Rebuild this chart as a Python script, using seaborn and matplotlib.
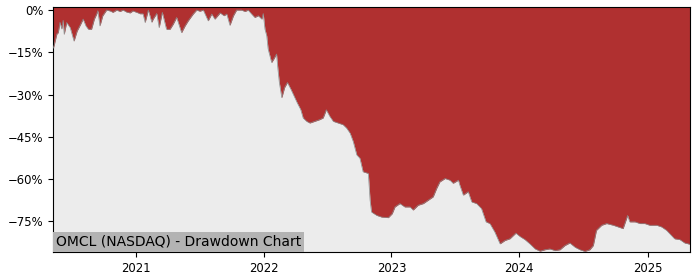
import matplotlib
matplotlib.use("Agg")
import matplotlib.pyplot as plt
import matplotlib.dates as mdates
from matplotlib.ticker import FuncFormatter
import seaborn as sns
import pandas as pd

ticker_label = "OMCL (NASDAQ) - Drawdown Chart"

dates = [
    "2020-05-11", "2020-05-14", "2020-05-21", "2020-05-25", "2020-05-30", "2020-06-04",
    "2020-06-08", "2020-06-11", "2020-06-18", "2020-06-28", "2020-07-09", "2020-07-18",
    "2020-07-28", "2020-08-04", "2020-08-12", "2020-08-19", "2020-08-28", "2020-09-05",
    "2020-09-12", "2020-09-15", "2020-09-21", "2020-09-29", "2020-10-10", "2020-10-20",
    "2020-10-28", "2020-11-08", "2020-11-17", "2020-11-26", "2020-12-06", "2020-12-16",
    "2020-12-24", "2021-01-08", "2021-01-13", "2021-01-22", "2021-01-28", "2021-02-06",
    "2021-02-16", "2021-02-20", "2021-03-02", "2021-03-09", "2021-03-18", "2021-03-30",
    "2021-04-09", "2021-04-18", "2021-04-28", "2021-05-12", "2021-05-22", "2021-05-31",
    "2021-06-14", "2021-06-24", "2021-07-03", "2021-07-13", "2021-07-27", "2021-08-06",
    "2021-08-15", "2021-08-30", "2021-09-10", "2021-09-18", "2021-09-27", "2021-10-07",
    "2021-10-16", "2021-10-30", "2021-11-09", "2021-11-18", "2021-11-28", "2021-12-07",
    "2021-12-17", "2021-12-27", "2021-12-31", "2022-01-05", "2022-01-10", "2022-01-14",
    "2022-01-24", "2022-01-30", "2022-02-07", "2022-02-11", "2022-02-15", "2022-02-22",
    "2022-03-02", "2022-03-10", "2022-03-20", "2022-03-29", "2022-04-07", "2022-04-17",
    "2022-04-24", "2022-05-04", "2022-05-13", "2022-05-27", "2022-06-10", "2022-06-20",
    "2022-06-29", "2022-07-09", "2022-07-19", "2022-08-02", "2022-08-16", "2022-08-26",
    "2022-09-05", "2022-09-14", "2022-09-24", "2022-10-03", "2022-10-12", "2022-10-27",
    "2022-11-01", "2022-11-05", "2022-11-20", "2022-12-04", "2022-12-23", "2023-01-03",
    "2023-01-11", "2023-01-25", "2023-02-08", "2023-02-23", "2023-03-04", "2023-03-18",
    "2023-04-02", "2023-04-16", "2023-04-30", "2023-05-10", "2023-05-19", "2023-06-03",
    "2023-06-17", "2023-06-26", "2023-07-11", "2023-07-15", "2023-07-25", "2023-08-08",
    "2023-08-18", "2023-09-01", "2023-09-15", "2023-09-28", "2023-10-09", "2023-10-23",
    "2023-11-07", "2023-11-21", "2023-12-05", "2023-12-22", "2024-01-03", "2024-01-17",
    "2024-01-31", "2024-02-15", "2024-02-29", "2024-03-14", "2024-03-28", "2024-04-12",
    "2024-04-26", "2024-05-10", "2024-05-24", "2024-06-08", "2024-06-22", "2024-07-06",
    "2024-07-20", "2024-07-30", "2024-08-08", "2024-08-23", "2024-09-06", "2024-09-25",
    "2024-10-09", "2024-10-23", "2024-10-28", "2024-11-05", "2024-11-11", "2024-11-26",
    "2024-12-10", "2024-12-24", "2025-01-07", "2025-01-27", "2025-02-10", "2025-02-24",
    "2025-03-10", "2025-03-19", "2025-04-03", "2025-04-17", "2025-04-27", "2025-05-02",
]

drawdown_pct = [
    -13.5, -12.1, -8.5, -8.0, -4.3, -6.7,
    -3.6, -8.6, -4.4, -6.2, -11.0, -7.4,
    -5.0, -3.2, -5.6, -6.8, -6.8, -3.2,
    -1.3, -0.2, -5.6, -2.0, 0.0, -0.3,
    -0.8, 0.0, -0.5, 0.0, -0.7, -1.0,
    -0.3, -1.0, -1.3, -1.3, -4.4, 0.0,
    -4.3, -3.2, -1.2, -6.2, -0.8, -6.8,
    -6.8, -5.0, -2.6, -8.0, -5.6, -3.8,
    -1.4, 0.0, -0.4, 0.0, -3.8, -1.4,
    -3.2, -1.0, -2.0, -1.4, -5.4, -2.0,
    0.0, 0.0, -0.5, 0.0, -1.4, -2.6,
    -2.0, -3.2, -1.2, -6.8, -9.1, -13.8,
    -18.6, -17.4, -15.6, -21.0, -25.7, -31.1,
    -27.5, -25.7, -28.1, -30.5, -32.9, -35.3,
    -38.3, -39.5, -40.1, -39.5, -38.9, -38.3,
    -35.4, -37.7, -39.5, -40.1, -40.7, -41.9,
    -43.7, -46.7, -51.4, -52.6, -57.4, -58.0,
    -67.5, -71.7, -72.9, -73.5, -73.7, -72.3,
    -69.9, -68.7, -69.9, -69.9, -71.0, -69.3,
    -68.7, -67.5, -66.3, -63.3, -61.0, -59.8,
    -60.4, -61.5, -60.4, -62.1, -65.7, -64.5,
    -68.1, -68.7, -70.5, -75.2, -75.8, -78.8,
    -83.0, -81.8, -81.2, -79.2, -80.4, -81.5,
    -83.0, -84.8, -85.6, -85.1, -84.8, -85.4,
    -85.1, -83.6, -82.7, -84.2, -85.1, -85.7,
    -85.1, -83.6, -78.2, -76.4, -75.8, -76.4,
    -77.0, -77.6, -75.8, -72.9, -75.2, -75.2,
    -75.8, -75.8, -76.4, -76.4, -77.0, -78.2,
    -80.0, -81.2, -81.5, -82.7, -83.0, -83.2,
]

df = pd.DataFrame({"date": pd.to_datetime(dates), "dd": drawdown_pct})

y_top = 1.0
y_bottom = -86.0

fig = plt.figure(figsize=(7, 2.8), dpi=100)
ax = fig.add_axes([0.0762, 0.099, 0.9095, 0.875])
ax.set_facecolor("#ececec")

ax.fill_between(df["date"], df["dd"], y_top, color="#b03030", linewidth=0, zorder=2)
sns.lineplot(data=df, x="date", y="dd", ax=ax, color="#8a8a8a", linewidth=0.5, zorder=3)

ax.set_xlim(df["date"].iloc[0], df["date"].iloc[-1])
ax.set_ylim(y_bottom, y_top)
ax.set_yticks([0, -15, -30, -45, -60, -75])
ax.yaxis.set_major_formatter(FuncFormatter(lambda v, p: f"{int(v)}%".replace("-", "\u2212")))
ax.xaxis.set_major_locator(mdates.YearLocator())
ax.xaxis.set_major_formatter(mdates.DateFormatter("%Y"))
ax.tick_params(labelsize="small")
ax.set_xlabel("")
ax.set_ylabel("")

ax.annotate(ticker_label, xy=(0, 0), xycoords="axes fraction",
            xytext=(2, 2.5), textcoords="offset points", ha="left", va="bottom",
            fontsize=10, color="black", zorder=5,
            bbox=dict(boxstyle="square,pad=0.2", facecolor="#b3b3b3", edgecolor="none"))

fig.savefig("out.png", dpi=100)
